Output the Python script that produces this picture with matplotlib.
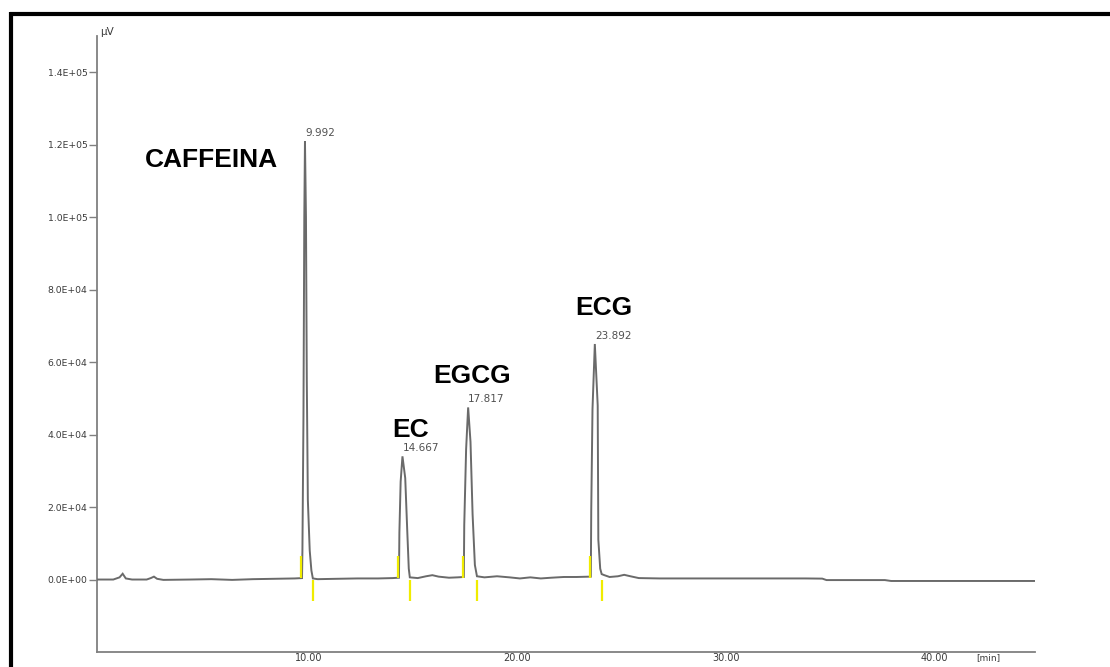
import matplotlib
matplotlib.use("Agg")
import matplotlib.pyplot as plt
from matplotlib import transforms

# Chromatogram trace: retention time (min) and detector response (µV)
time_min = [
    0.00, 0.80, 1.10, 1.25, 1.40, 1.70, 2.40, 2.60, 2.75, 2.90, 3.20, 4.50,
    5.50, 6.50, 7.50, 8.50, 9.50, 9.85,
    # caffeine
    9.87, 9.92, 9.96, 9.992, 10.04, 10.08, 10.13, 10.22, 10.30, 10.37,
    10.60, 11.50, 12.50, 13.50, 14.20, 14.50,
    # EC
    14.52, 14.58, 14.667, 14.80, 14.90, 14.97, 15.02,
    15.40, 15.80, 16.10, 16.40, 16.90, 17.30, 17.61,
    # EGCG
    17.63, 17.72, 17.817, 17.93, 18.03, 18.14, 18.24,
    18.60, 19.20, 19.80, 20.30, 20.80, 21.30, 21.80, 22.40, 23.00, 23.70,
    # ECG
    23.72, 23.78, 23.892, 24.03, 24.06, 24.15, 24.22,
    24.35, 24.60, 25.00, 25.30, 25.60, 26.00, 27.00, 30.00, 34.00, 34.80,
    35.00, 37.80, 38.10, 45.00,
]
signal_uv = [
    0, 0, 600, 1600, 300, 0, 0, 400, 800, 200, -100, 0,
    100, -100, 100, 200, 300, 400,
    8000, 45000, 100000, 121000, 100000, 55000, 22000, 8000, 2500, 300,
    100, 200, 300, 300, 400, 500,
    13000, 27000, 34000, 28000, 13000, 3000, 600,
    400, 900, 1200, 800, 500, 600, 700,
    15000, 36000, 47500, 38000, 18000, 4000, 900,
    600, 900, 600, 300, 600, 300, 500, 700, 700, 800,
    19000, 47000, 65000, 48000, 11000, 3000, 1500,
    1200, 700, 900, 1300, 900, 400, 300, 300, 300, 250,
    -150, -150, -400, -400,
]

peak_names = ["CAFFEINA", "EC", "EGCG", "ECG"]
peak_rt = [9.992, 14.667, 17.817, 23.892]
peak_height = [121000, 34000, 47500, 65000]
peak_start = [9.80, 14.45, 17.56, 23.65]
peak_end = [10.37, 15.02, 18.24, 24.22]
name_x = [2.32, 14.16, 16.13, 22.93]
name_y = [113800, 39400, 54300, 73000]

y_ticks = [0, 20000, 40000, 60000, 80000, 100000, 120000, 140000]
x_ticks = [10, 20, 30, 40]
x_tick_labels = ["10.00", "20.00", "30.00", "40.00"]

W, H = 1110, 667
fig = plt.figure(figsize=(W / 100, H / 100), dpi=100)
fig.patch.set_facecolor("white")

left_px, right_px, top_px, bottom_px = 96.6, 1035, 36, 652
ax = fig.add_axes([left_px / W, 1 - bottom_px / H,
                   (right_px - left_px) / W, (bottom_px - top_px) / H])
ax.set_xlim(0, 45)
ax.set_ylim(-20000, 150000)

axis_grey = "#808080"
for side in ("top", "right"):
    ax.spines[side].set_visible(False)
for side in ("left", "bottom"):
    ax.spines[side].set_color(axis_grey)
    ax.spines[side].set_linewidth(1.3)

ax.set_yticks(y_ticks)
ax.set_yticklabels([f"{v:.1E}" for v in y_ticks])
ax.tick_params(axis="y", direction="out", length=6, width=1.0, color=axis_grey,
               pad=0.5, labelsize=6.7, labelcolor="#3a3a3a")
ax.set_xticks(x_ticks)
ax.set_xticklabels([])
ax.tick_params(axis="x", length=0)

# x tick labels, set slightly right of the tick position
xlab_tr = transforms.offset_copy(ax.get_xaxis_transform(), fig=fig,
                                 x=3.5, y=-1, units="dots")
for xv, lab in zip(x_ticks, x_tick_labels):
    ax.text(xv, 0, lab, transform=xlab_tr, ha="center", va="top",
            fontsize=7, color="#3a3a3a")
ax.text(42.61, 0, "[min]", transform=xlab_tr, ha="center", va="top",
        fontsize=6.5, color="#3a3a3a")
fig.text(100 / W, 1 - 35 / H, "µV", fontsize=7.5, color="#3a3a3a",
         ha="left", va="baseline")

# chromatogram
ax.plot(time_min, signal_uv, color="#6a6a6a", lw=1.4, zorder=3,
        solid_joinstyle="miter")

# integration markers
ax.vlines(peak_start, 500, 6500, color="#f0ec00", lw=1.6, zorder=4)
ax.vlines(peak_end, 0, -5800, color="#f0ec00", lw=1.6, zorder=4)

# retention time labels
rt_tr = transforms.offset_copy(ax.transData, fig=fig, x=0, y=3, units="dots")
for rt, h in zip(peak_rt, peak_height):
    ax.text(rt, h, f"{rt:.3f}", transform=rt_tr, ha="left", va="bottom",
            fontsize=7.5, color="#505050")

# compound names
for name, xv, yv in zip(peak_names, name_x, name_y):
    ax.text(xv, yv, name, ha="left", va="baseline", fontsize=19,
            fontweight="bold", family="Liberation Sans", color="black")

# outer frame
fig.add_artist(plt.Line2D([10 / W, 1.0], [1 - 14 / H, 1 - 14 / H],
                          transform=fig.transFigure, color="black", lw=3,
                          solid_capstyle="butt"))
fig.add_artist(plt.Line2D([11 / W, 11 / W], [0, 1 - 12 / H],
                          transform=fig.transFigure, color="black", lw=3,
                          solid_capstyle="butt"))

fig.savefig("out.png", dpi=100, facecolor="white")
